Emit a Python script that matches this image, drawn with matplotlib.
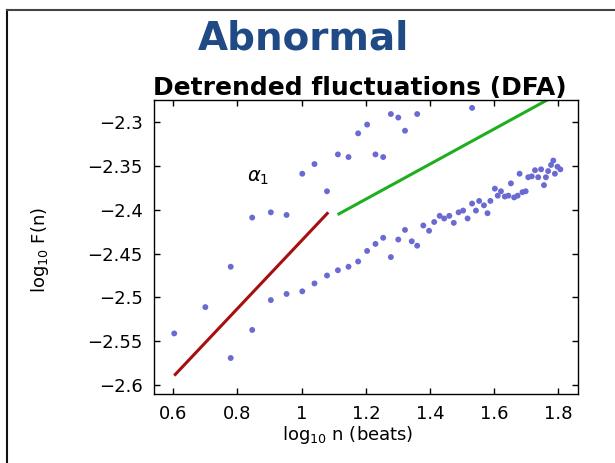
import numpy as np
import matplotlib
matplotlib.use('Agg')
import matplotlib.pyplot as plt
from matplotlib.lines import Line2D

# upper (noisy) points
upperX = [0.603, 0.700, 0.779, 0.846, 0.904, 0.953, 1.002, 1.040, 1.079, 1.113,
          1.146, 1.176, 1.204, 1.230, 1.254, 1.278, 1.301, 1.322, 1.360, 1.531]
upperY = [-2.541, -2.511, -2.465, -2.409, -2.403, -2.406, -2.359, -2.348, -2.379, -2.337,
          -2.340, -2.313, -2.303, -2.337, -2.340, -2.291, -2.295, -2.310, -2.291, -2.284]

# lower (trend) points
lowerX = [0.779, 0.846, 0.904, 0.953, 1.002, 1.040, 1.079, 1.113, 1.146, 1.176,
          1.204, 1.230, 1.254, 1.278, 1.301, 1.322, 1.343, 1.360, 1.379, 1.397,
          1.413, 1.430, 1.444, 1.460, 1.474, 1.489, 1.503, 1.517, 1.531, 1.543,
          1.553, 1.568, 1.579, 1.588, 1.602, 1.611, 1.621, 1.633, 1.644, 1.652,
          1.662, 1.673, 1.679, 1.688, 1.698, 1.706, 1.717, 1.727, 1.737, 1.746,
          1.755, 1.761, 1.768, 1.777, 1.784, 1.789, 1.797, 1.806]
lowerY = [-2.569, -2.537, -2.503, -2.496, -2.493, -2.484, -2.475, -2.469, -2.465, -2.459,
          -2.447, -2.439, -2.432, -2.454, -2.434, -2.423, -2.436, -2.441, -2.418, -2.424,
          -2.414, -2.407, -2.410, -2.407, -2.415, -2.403, -2.401, -2.410, -2.393, -2.401,
          -2.390, -2.395, -2.404, -2.390, -2.376, -2.384, -2.379, -2.385, -2.384, -2.370,
          -2.386, -2.384, -2.359, -2.380, -2.379, -2.363, -2.362, -2.355, -2.363, -2.354,
          -2.372, -2.363, -2.356, -2.349, -2.344, -2.359, -2.351, -2.354]

# fitted lines (alpha1 short range, alpha2 long range)
fit1X = [0.603, 1.083]
fit1Y = [-2.589, -2.403]
fit2X = [1.112, 1.80]
fit2Y = [-2.4056, -2.268]

xTicks = [0.6, 0.8, 1.0, 1.2, 1.4, 1.6, 1.8]
xTickLabels = ['0.6', '0.8', '1', '1.2', '1.4', '1.6', '1.8']
yTicks = [-2.6, -2.55, -2.5, -2.45, -2.4, -2.35, -2.3]
yTickLabels = ['\u22122.6', '\u22122.55', '\u22122.5', '\u22122.45', '\u22122.4', '\u22122.35', '\u22122.3']

fig = plt.figure(figsize=(6.15, 4.63), dpi=100)
ax = fig.add_axes([154 / 615, 1 - 394 / 463, 424 / 615, 294 / 463])

dotColor = '#6a6ad2'
ax.scatter(upperX, upperY, s=18, color=dotColor, edgecolors='none', zorder=3)
ax.scatter(lowerX, lowerY, s=18, color=dotColor, edgecolors='none', zorder=3)
ax.plot(fit1X, fit1Y, color='#a80f0f', linewidth=2.2, solid_capstyle='butt', zorder=2)
ax.plot(fit2X, fit2Y, color='#1fae1f', linewidth=2.2, solid_capstyle='butt', zorder=2)

ax.text(0.865, -2.363, r'$\alpha_1$', fontsize=14, ha='center', va='center')

ax.set_xlim(0.54, 1.861)
ax.set_ylim(-2.61, -2.275)
ax.set_xticks(xTicks)
ax.set_xticklabels(xTickLabels)
ax.set_yticks(yTicks)
ax.set_yticklabels(yTickLabels)
ax.tick_params(direction='in', length=4.5, width=1, top=True, right=True,
               labelsize=13, pad=8)
for sp in ax.spines.values():
    sp.set_linewidth(1.0)

fig.text(348 / 615, 1 - 435 / 463, r'log$_{10}$ n (beats)', fontsize=13,
         ha='center', va='center')
fig.text(40 / 615, 1 - 250 / 463, r'log$_{10}$ F(n)', fontsize=13,
         ha='center', va='center', rotation=90)

fig.text(360 / 615, 1 - 88 / 463, 'Detrended fluctuations (DFA)', fontsize=18,
         fontweight='bold', ha='center', va='center')
fig.text(303 / 615, 1 - 39 / 463, 'Abnormal', fontsize=28, fontweight='bold',
         color='#1f4a86', ha='center', va='center')

# slide frame
fig.add_artist(Line2D([7 / 615, 7 / 615], [0, 1 - 10 / 463], color='#111111', linewidth=1.5))
fig.add_artist(Line2D([7 / 615, 1], [1 - 10 / 463, 1 - 10 / 463], color='#444444', linewidth=1.5))

fig.savefig('out.png', dpi=100)
